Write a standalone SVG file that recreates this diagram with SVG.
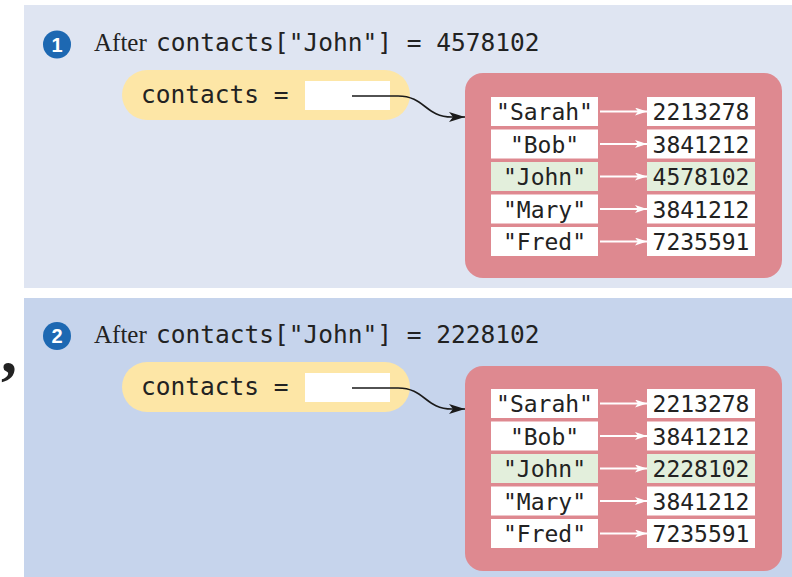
<svg xmlns="http://www.w3.org/2000/svg" width="792" height="577" viewBox="0 0 792 577">
<defs>
<style>
.serif{font-family:"Liberation Serif","Times New Roman",serif;font-size:25px;fill:#222}
.mono{font-family:"DejaVu Sans Mono","Liberation Mono",monospace;fill:#222}
.hdr{font-size:24.5px}
.pv{font-size:24.5px}
.cell{font-size:23px}
.pill{fill:#fde6a6}
.ref{fill:#ffffff}
.map{fill:#de8990}
.key{fill:#ffffff}
.hl{fill:#e3efdc}
.num{fill:#1d68b2}
.numt{font-family:"Liberation Sans",Arial,sans-serif;font-size:20px;font-weight:bold;fill:#fff}
.conn{fill:none;stroke:#1a1a1a;stroke-width:1.6}
.warr{fill:none;stroke:#ffffff;stroke-width:2}
</style>
<marker id="blk" viewBox="0 0 16 10" refX="16" refY="5" markerWidth="16" markerHeight="10" markerUnits="userSpaceOnUse" orient="auto">
<path d="M0,0 L16,5 L0,10 L4,5 Z" fill="#1a1a1a"/>
</marker>
<marker id="wht" viewBox="0 0 12 8" refX="12" refY="4" markerWidth="12" markerHeight="8" markerUnits="userSpaceOnUse" orient="auto">
<path d="M0,0 L12,4 L0,8 L3,4 Z" fill="#ffffff"/>
</marker>
</defs>
<rect width="792" height="577" fill="#ffffff"/>

<g id="panel1">
<rect x="24" y="5" width="768" height="283" fill="#dfe5f2"/>
<g id="step1">
<circle class="num" cx="57" cy="44.5" r="14"/>
<text class="numt" x="57" y="51.5" text-anchor="middle">1</text>
<text class="serif" x="94" y="51">After</text>
<text class="mono hdr" x="156" y="51">contacts["John"] = 4578102</text>
</g>
<g id="var1">
<rect class="pill" x="122" y="70" width="288" height="50" rx="25"/>
<text class="mono pv" x="141" y="103">contacts =</text>
<rect class="ref" x="305" y="81" width="85" height="29"/>
</g>
<g id="map1">
<rect class="map" x="465" y="73" width="317" height="205" rx="18"/>
<g id="m1r1"><rect class="key" x="491" y="97" width="107" height="29"/><text class="mono cell" x="544.5" y="120" text-anchor="middle">"Sarah"</text><rect class="key" x="647" y="97" width="108" height="29"/><text class="mono cell" x="701" y="120" text-anchor="middle">2213278</text></g>
<g id="m1r2"><rect class="key" x="491" y="129.5" width="107" height="29"/><text class="mono cell" x="544.5" y="152.5" text-anchor="middle">"Bob"</text><rect class="key" x="647" y="129.5" width="108" height="29"/><text class="mono cell" x="701" y="152.5" text-anchor="middle">3841212</text></g>
<g id="m1r3"><rect class="hl" x="491" y="162" width="107" height="29"/><text class="mono cell" x="544.5" y="185" text-anchor="middle">"John"</text><rect class="hl" x="647" y="162" width="108" height="29"/><text class="mono cell" x="701" y="185" text-anchor="middle">4578102</text></g>
<g id="m1r4"><rect class="key" x="491" y="194.5" width="107" height="29"/><text class="mono cell" x="544.5" y="217.5" text-anchor="middle">"Mary"</text><rect class="key" x="647" y="194.5" width="108" height="29"/><text class="mono cell" x="701" y="217.5" text-anchor="middle">3841212</text></g>
<g id="m1r5"><rect class="key" x="491" y="227" width="107" height="29"/><text class="mono cell" x="544.5" y="250" text-anchor="middle">"Fred"</text><rect class="key" x="647" y="227" width="108" height="29"/><text class="mono cell" x="701" y="250" text-anchor="middle">7235591</text></g>
</g>
</g>

<g id="panel2">
<rect x="24" y="298" width="768" height="279" fill="#c6d4ec"/>
<g id="step2">
<circle class="num" cx="57" cy="336" r="14"/>
<text class="numt" x="57" y="343" text-anchor="middle">2</text>
<text class="serif" x="94" y="343">After</text>
<text class="mono hdr" x="156" y="343">contacts["John"] = 2228102</text>
</g>
<g id="var2">
<rect class="pill" x="122" y="362" width="288" height="50" rx="25"/>
<text class="mono pv" x="141" y="395">contacts =</text>
<rect class="ref" x="305" y="373" width="85" height="29"/>
</g>
<g id="map2">
<rect class="map" x="465" y="366" width="317" height="205" rx="18"/>
<g id="m2r1"><rect class="key" x="491" y="389" width="107" height="29"/><text class="mono cell" x="544.5" y="412" text-anchor="middle">"Sarah"</text><rect class="key" x="647" y="389" width="108" height="29"/><text class="mono cell" x="701" y="412" text-anchor="middle">2213278</text></g>
<g id="m2r2"><rect class="key" x="491" y="421.5" width="107" height="29"/><text class="mono cell" x="544.5" y="444.5" text-anchor="middle">"Bob"</text><rect class="key" x="647" y="421.5" width="108" height="29"/><text class="mono cell" x="701" y="444.5" text-anchor="middle">3841212</text></g>
<g id="m2r3"><rect class="hl" x="491" y="454" width="107" height="29"/><text class="mono cell" x="544.5" y="477" text-anchor="middle">"John"</text><rect class="hl" x="647" y="454" width="108" height="29"/><text class="mono cell" x="701" y="477" text-anchor="middle">2228102</text></g>
<g id="m2r4"><rect class="key" x="491" y="486.5" width="107" height="29"/><text class="mono cell" x="544.5" y="509.5" text-anchor="middle">"Mary"</text><rect class="key" x="647" y="486.5" width="108" height="29"/><text class="mono cell" x="701" y="509.5" text-anchor="middle">3841212</text></g>
<g id="m2r5"><rect class="key" x="491" y="519" width="107" height="29"/><text class="mono cell" x="544.5" y="542" text-anchor="middle">"Fred"</text><rect class="key" x="647" y="519" width="108" height="29"/><text class="mono cell" x="701" y="542" text-anchor="middle">7235591</text></g>
</g>
</g>

<text x="1" y="372" font-family="Liberation Serif, serif" font-weight="bold" font-size="64" fill="#222">,</text>

<g id="connectors">
<path class="conn" marker-end="url(#blk)" d="M352,96 L398,96 C425,96 425,117 452,117 L465,117"/>
<path class="conn" marker-end="url(#blk)" d="M352,388 L398,388 C425,388 425,409 452,409 L465,409"/>
<path class="warr" marker-end="url(#wht)" d="M600,111.5 L647,111.5"/>
<path class="warr" marker-end="url(#wht)" d="M600,144 L647,144"/>
<path class="warr" marker-end="url(#wht)" d="M600,176.5 L647,176.5"/>
<path class="warr" marker-end="url(#wht)" d="M600,209 L647,209"/>
<path class="warr" marker-end="url(#wht)" d="M600,241.5 L647,241.5"/>
<path class="warr" marker-end="url(#wht)" d="M600,403.5 L647,403.5"/>
<path class="warr" marker-end="url(#wht)" d="M600,436 L647,436"/>
<path class="warr" marker-end="url(#wht)" d="M600,468.5 L647,468.5"/>
<path class="warr" marker-end="url(#wht)" d="M600,501 L647,501"/>
<path class="warr" marker-end="url(#wht)" d="M600,533.5 L647,533.5"/>
</g>
</svg>
